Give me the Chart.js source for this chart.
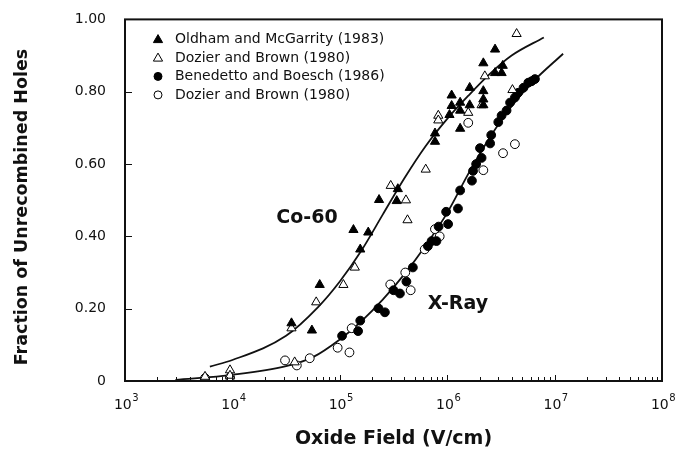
<!DOCTYPE html>
<html>
<head>
<meta charset="utf-8">
<script src="https://cdn.jsdelivr.net/npm/chart.js@4.4.0/dist/chart.umd.min.js"></script>
<style>
  html, body { margin: 0; padding: 0; background: #fff; }
  #wrap { width: 683px; height: 458px; }
</style>
</head>
<body>
<div id="wrap"><canvas id="holesChart" width="683" height="458"></canvas></div>
<script>
// Oldham and McGarrity (1983) - Co-60, filled triangles
const oldhamField = [3.55e4, 5.5e4, 6.5e4, 1.34e5, 1.55e5, 1.84e5, 2.32e5, 3.39e5, 3.47e5,
  7.7e5, 7.7e5, 1.05e6, 1.10e6, 1.10e6, 1.32e6, 1.32e6, 1.32e6, 1.62e6, 1.62e6,
  2.17e6, 2.17e6, 2.17e6, 2.17e6, 2.79e6, 2.79e6, 3.21e6, 3.29e6];
const oldhamFraction = [0.16, 0.14, 0.266, 0.418, 0.364, 0.411, 0.501, 0.498, 0.531,
  0.685, 0.662, 0.736, 0.79, 0.761, 0.698, 0.77, 0.748, 0.811, 0.763,
  0.879, 0.802, 0.779, 0.763, 0.917, 0.852, 0.852, 0.872];

// Dozier and Brown (1980) - Co-60, open triangles
const dozierCoField = [5.56e3, 9.5e3, 9.5e3, 3.8e4, 3.55e4, 6.03e4, 1.08e5, 1.38e5, 2.98e5,
  4.13e5, 4.27e5, 6.31e5, 8.26e5, 8.26e5, 1.57e6, 2.09e6, 2.24e6, 4.05e6, 4.43e6];
const dozierCoFraction = [0.012, 0.03, 0.015, 0.052, 0.146, 0.218, 0.266, 0.314, 0.54,
  0.50, 0.445, 0.585, 0.734, 0.721, 0.742, 0.763, 0.843, 0.805, 0.96];

// Benedetto and Boesch (1986) - X-ray, filled circles
const benedettoField = [1.05e5, 1.48e5, 1.55e5, 2.29e5, 2.63e5, 3.16e5, 3.63e5, 4.17e5, 4.79e5,
  6.61e5, 7.16e5, 7.94e5, 8.32e5, 9.77e5, 1.02e6, 1.26e6, 1.32e6, 1.70e6, 1.74e6, 1.86e6,
  2.02e6, 2.09e6, 2.51e6, 2.57e6, 2.99e6, 3.21e6, 3.57e6, 3.85e6, 4.27e6, 4.57e6,
  5.13e6, 5.69e6, 6.11e6, 6.56e6];
const benedettoFraction = [0.125, 0.138, 0.167, 0.201, 0.19, 0.251, 0.242, 0.275, 0.314,
  0.373, 0.387, 0.387, 0.427, 0.468, 0.434, 0.477, 0.527, 0.554, 0.581, 0.60,
  0.644, 0.617, 0.657, 0.68, 0.716, 0.734, 0.748, 0.77, 0.784, 0.797,
  0.811, 0.825, 0.829, 0.835];

// Dozier and Brown (1980) - X-ray, open circles
const dozierXField = [5.56e3, 9.5e3, 3.09e4, 3.98e4, 5.25e4, 9.55e4, 1.23e5, 1.29e5, 2.95e5,
  4.07e5, 4.57e5, 6.17e5, 7.69e5, 8.51e5, 1.57e6, 2.17e6, 3.31e6, 4.27e6];
const dozierXFraction = [0.008, 0.01, 0.057, 0.043, 0.063, 0.092, 0.079, 0.146, 0.267,
  0.30, 0.251, 0.364, 0.42, 0.40, 0.714, 0.583, 0.63, 0.655];

// fitted curves
const coCurveField = [6.17e3, 1.0e4, 3.16e4, 6.31e4, 1.0e5, 1.585e5, 2.51e5, 3.98e5, 6.31e5,
  1.0e6, 1.585e6, 2.51e6, 3.98e6, 7.94e6];
const coCurveFraction = [0.04, 0.058, 0.125, 0.205, 0.275, 0.36, 0.46, 0.56, 0.65,
  0.725, 0.79, 0.85, 0.90, 0.95];
const xrayCurveField = [2.95e3, 1.0e4, 3.16e4, 5.62e4, 1.0e5, 1.585e5, 2.51e5, 3.98e5, 6.31e5,
  1.0e6, 1.585e6, 2.51e6, 3.98e6, 6.31e6, 1.2e7];
const xrayCurveFraction = [0.003, 0.017, 0.041, 0.066, 0.115, 0.165, 0.225, 0.295, 0.375,
  0.465, 0.575, 0.675, 0.76, 0.828, 0.905];

const legendLabels = ['Oldham and McGarrity (1983)', 'Dozier and Brown (1980)',
  'Benedetto and Boesch (1986)', 'Dozier and Brown (1980)'];
const xTickValues = [1e3, 1e4, 1e5, 1e6, 1e7, 1e8];
const xTickExponents = ['3', '4', '5', '6', '7', '8'];
const yTickValues = [0, 0.2, 0.4, 0.6, 0.8, 1.0];
const yTickLabels = ['0', '0.20', '0.40', '0.60', '0.80', '1.00'];
const curveLabels = ['Co-60', 'X-Ray'];
const curveLabelField = [4.95e4, 1.26e6];
const curveLabelFraction = [0.45, 0.212];
const yTitle = 'Fraction of Unrecombined Holes';

function pairs(xs, ys) {
  return xs.map((x, i) => ({ x: x, y: ys[i] }));
}

const FONT = "'DejaVu Sans', Verdana, sans-serif";

// box, inward ticks, x labels with exponents, legend and curve labels
const framePlugin = {
  id: 'framePlugin',
  afterDatasetsDraw(chart) {
    const ctx = chart.ctx;
    const a = chart.chartArea;
    const xs = chart.scales.x;
    const ys = chart.scales.y;
    ctx.save();
    ctx.strokeStyle = '#111';
    ctx.lineWidth = 1;
    ctx.beginPath();
    yTickValues.forEach(v => {
      const py = Math.round(ys.getPixelForValue(v)) + 0.5;
      ctx.moveTo(a.left, py);
      ctx.lineTo(a.left + 7, py);
    });
    xTickValues.forEach((v, i) => {
      if (i === xTickValues.length - 1) return;
      for (let m = 1; m <= 9; m++) {
        const px = Math.round(xs.getPixelForValue(v * m)) + 0.5;
        ctx.moveTo(px, a.bottom);
        ctx.lineTo(px, a.bottom - (m === 1 ? 6 : 4));
      }
    });
    ctx.stroke();

    ctx.lineWidth = 2;
    ctx.strokeRect(a.left, a.top, a.right - a.left, a.bottom - a.top);

    // x tick labels: 10 with raised exponent
    ctx.fillStyle = '#111';
    ctx.textBaseline = 'alphabetic';
    ctx.textAlign = 'left';
    xTickValues.forEach((v, i) => {
      const px = xs.getPixelForValue(v);
      ctx.font = '14px ' + FONT;
      const wBase = ctx.measureText('10').width;
      ctx.font = '10px ' + FONT;
      const wExp = ctx.measureText(xTickExponents[i]).width;
      const x0 = px - (wBase + wExp) / 2 + 1;
      ctx.font = '14px ' + FONT;
      ctx.fillText('10', x0, a.bottom + 28);
      ctx.font = '10px ' + FONT;
      ctx.fillText(xTickExponents[i], x0 + wBase + 0.5, a.bottom + 20);
    });

    // y title
    ctx.save();
    ctx.translate(22, 207);
    ctx.rotate(-Math.PI / 2);
    ctx.textAlign = 'center';
    ctx.textBaseline = 'middle';
    ctx.font = 'bold 17.5px ' + FONT;
    ctx.fillText(yTitle, 0, 0);
    ctx.restore();

    // legend
    ctx.font = '14px ' + FONT;
    ctx.textBaseline = 'middle';
    ctx.textAlign = 'left';
    const styles = ['triangle', 'triangle', 'circle', 'circle'];
    const filled = [true, false, true, false];
    legendLabels.forEach((lab, i) => {
      const cy = a.top + 20 + i * 18.5;
      const cx = a.left + 33;
      ctx.beginPath();
      if (styles[i] === 'triangle') {
        ctx.moveTo(cx, cy - 4.8);
        ctx.lineTo(cx + 4.6, cy + 3.2);
        ctx.lineTo(cx - 4.6, cy + 3.2);
        ctx.closePath();
      } else {
        ctx.arc(cx, cy, 4, 0, Math.PI * 2);
      }
      ctx.lineWidth = 1;
      ctx.fillStyle = filled[i] ? '#000' : '#fff';
      ctx.fill();
      ctx.strokeStyle = '#000';
      ctx.stroke();
      ctx.fillStyle = '#111';
      ctx.fillText(lab, a.left + 50, cy);
    });

    ctx.font = 'bold 19px ' + FONT;
    ctx.textAlign = 'center';
    curveLabels.forEach((lab, i) => {
      ctx.fillText(lab, xs.getPixelForValue(curveLabelField[i]), ys.getPixelForValue(curveLabelFraction[i]));
    });
    ctx.restore();
  }
};

const markerBase = { showLine: false, borderColor: '#000', borderWidth: 1 };

new Chart(document.getElementById('holesChart').getContext('2d'), {
  type: 'scatter',
  data: {
    datasets: [
      Object.assign({ label: legendLabels[0], data: pairs(oldhamField, oldhamFraction),
        pointStyle: 'triangle', pointRadius: 5.3, backgroundColor: '#000' }, markerBase),
      Object.assign({ label: legendLabels[1], data: pairs(dozierCoField, dozierCoFraction),
        pointStyle: 'triangle', pointRadius: 5.3, backgroundColor: '#fff' }, markerBase),
      Object.assign({ label: legendLabels[2], data: pairs(benedettoField, benedettoFraction),
        pointStyle: 'circle', pointRadius: 4.4, backgroundColor: '#000' }, markerBase),
      Object.assign({ label: legendLabels[3], data: pairs(dozierXField, dozierXFraction),
        pointStyle: 'circle', pointRadius: 4.4, backgroundColor: '#fff' }, markerBase),
      { label: 'Co-60 fit', data: pairs(coCurveField, coCurveFraction), showLine: true,
        pointRadius: 0, borderColor: '#111', borderWidth: 1.8, cubicInterpolationMode: 'monotone' },
      { label: 'X-Ray fit', data: pairs(xrayCurveField, xrayCurveFraction), showLine: true,
        pointRadius: 0, borderColor: '#111', borderWidth: 1.8, cubicInterpolationMode: 'monotone' }
    ]
  },
  options: {
    responsive: false,
    devicePixelRatio: 1,
    animation: false,
    layout: { padding: { left: 0, top: 12, right: 21, bottom: 0 } },
    plugins: {
      legend: { display: false },
      tooltip: { enabled: false }
    },
    scales: {
      x: {
        type: 'logarithmic',
        min: 1e3,
        max: 1e8,
        afterBuildTicks: scale => { scale.ticks = xTickValues.map(v => ({ value: v })); },
        afterFit: scale => { scale.height = 77; },
        grid: { display: false },
        border: { display: false },
        ticks: { display: false },
        title: {
          display: true,
          text: 'Oxide Field (V/cm)',
          color: '#111',
          padding: { top: 0, bottom: 8 },
          font: { family: FONT, size: 19, weight: 'bold' }
        }
      },
      y: {
        min: 0,
        max: 1,
        afterBuildTicks: scale => { scale.ticks = yTickValues.map(v => ({ value: v })); },
        afterFit: scale => { scale.width = 125; },
        grid: { display: false },
        border: { display: false },
        ticks: {
          color: '#111',
          padding: 11,
          font: { family: FONT, size: 14 },
          callback: v => yTickLabels[yTickValues.indexOf(v)]
        },
        title: { display: false }
      }
    }
  },
  plugins: [framePlugin]
});
</script>
</body>
</html>
